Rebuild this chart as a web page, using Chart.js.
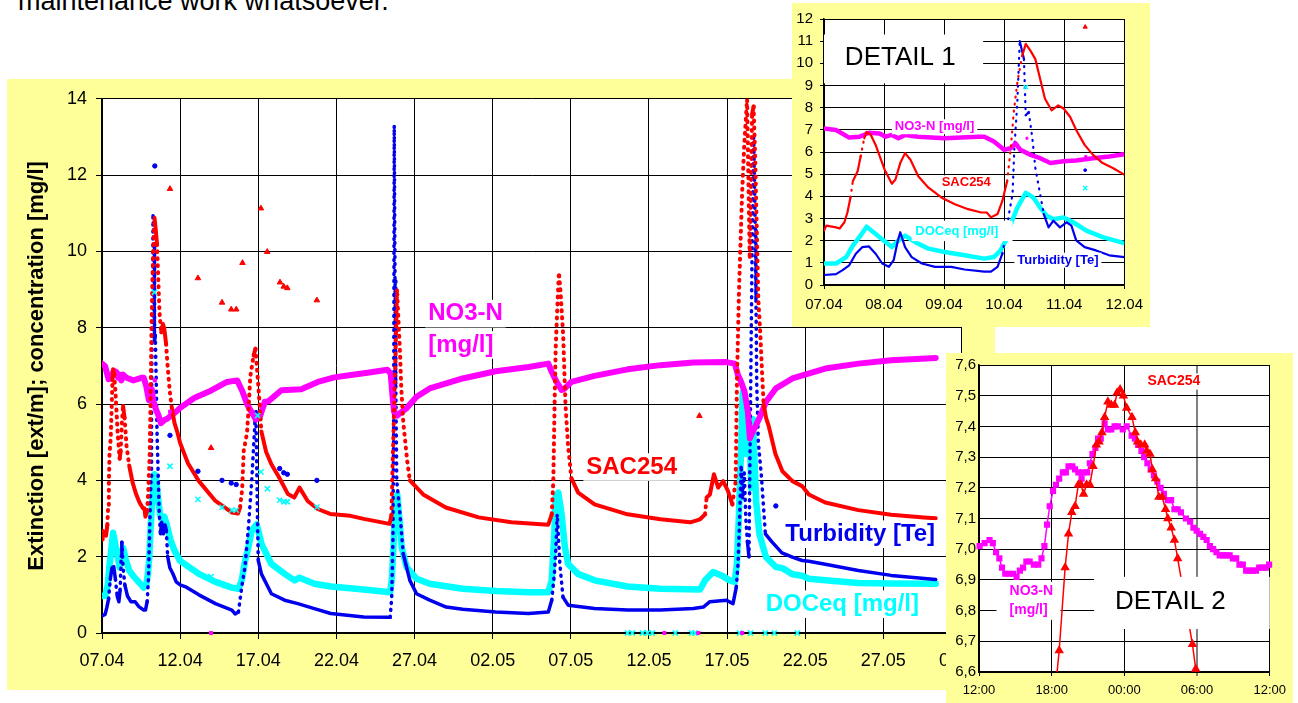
<!DOCTYPE html>
<html>
<head>
<meta charset="utf-8">
<script src="https://cdn.jsdelivr.net/npm/chart.js@4.4.1/dist/chart.umd.min.js"></script>
<style>
  body { margin: 0; width: 1298px; height: 703px; overflow: hidden; background: #fff; position: relative; font-family: "Liberation Sans", Arial, sans-serif; }
  .panel { position: absolute; background: #ffff99; }
  .panel canvas { display: block; }
  #intro { position: absolute; left: 18px; top: -12px; font-size: 27px; line-height: 27px; white-space: nowrap; color: #000; }
</style>
</head>
<body>
<div id="intro">maintenance work whatsoever.</div>
<div class="panel" style="left:7px;top:79px;width:988px;height:611px;z-index:1"><canvas id="mainChart" width="988" height="611"></canvas></div>
<div class="panel" style="left:792px;top:3px;width:358px;height:324px;z-index:2"><canvas id="detail1" width="358" height="324"></canvas></div>
<div class="panel" style="left:946px;top:353px;width:347px;height:350px;z-index:3"><canvas id="detail2" width="347" height="350"></canvas></div>
<script>
// days since 07.04, value
const sac254 = [[0,2.45],[0.04,2.68],[0.2,2.6],[0.26,2.55],[0.34,2.83],[0.39,3.27],[0.44,3.94],[0.48,4.68],[0.56,5.13],[0.61,5.8],[0.67,6.62],[0.71,6.91],[0.78,6.77],[0.86,6.32],[0.92,5.87],[1.01,5.2],[1.13,4.57],[1.19,4.76],[1.27,5.5],[1.35,5.95],[1.44,5.65],[1.57,4.91],[1.74,4.39],[1.96,3.94],[2.18,3.64],[2.4,3.42],[2.62,3.27],[2.71,3.27],[2.78,3.05],[2.89,3.2],[2.97,3.79],[3.05,4.68],[3.11,6.17],[3.16,7.8],[3.22,9.14],[3.3,10.33],[3.36,10.88],[3.44,10.56],[3.52,10.19],[3.6,9.29],[3.68,8.4],[3.79,7.88],[3.9,8.1],[3.99,7.96],[4.1,7.58],[4.2,6.99],[4.34,6.32],[4.48,5.87],[4.64,5.5],[4.81,5.28],[5.0,4.98],[5.5,4.45],[6.2,3.98],[7.26,3.46],[8.3,3.16],[8.7,3.13],[8.84,3.3],[8.97,3.77],[9.07,4.78],[9.28,5.24],[9.39,5.98],[9.49,6.72],[9.7,7.27],[9.82,7.45],[10.0,6.5],[10.2,5.28],[10.5,4.75],[10.84,4.42],[11.3,4.1],[11.9,3.64],[12.3,3.55],[12.64,3.81],[13.16,3.46],[13.8,3.25],[14.6,3.12],[15.9,3.07],[16.75,2.99],[18.4,2.86],[18.52,3.08],[18.58,4.14],[18.64,5.06],[18.73,6.44],[18.81,7.82],[18.88,9.01],[18.96,8.28],[19.07,7.36],[19.15,6.44],[19.28,5.52],[19.53,4.51],[19.7,4.0],[20.55,3.63],[22.0,3.29],[24.1,3.03],[26.2,2.9],[28.56,2.84],[28.78,3.11],[28.88,3.98],[28.95,5.72],[29.03,7.45],[29.16,8.75],[29.24,9.45],[29.35,8.9],[29.51,7.82],[29.66,5.98],[29.83,4.88],[30.04,4.05],[30.47,3.68],[31.52,3.37],[33.63,3.11],[35.74,2.98],[37.64,2.9],[38.27,2.98],[38.59,3.11],[38.69,3.55],[38.9,3.63],[39.16,4.16],[39.43,3.81],[39.75,3.98],[40.06,3.72],[40.34,3.37],[40.55,3.98],[40.63,6.58],[40.76,8.93],[40.96,11.5],[41.1,12.8],[41.28,13.98],[41.45,9.8],[41.6,13.6],[41.7,13.8],[41.8,12.4],[41.9,10.58],[42.0,8.74],[42.13,7.82],[42.23,6.9],[42.34,5.98],[42.5,5.63],[42.66,5.43],[43.09,4.7],[43.54,4.24],[44.18,3.98],[44.8,3.85],[45.23,3.63],[46.28,3.42],[48.4,3.22],[50.5,3.1],[52.6,3.03],[53.35,3.01]]

const no3n = [[0,7.06],[0.2,6.99],[0.42,6.65],[0.59,6.69],[0.75,6.87],[0.92,6.84],[1.03,6.69],[1.13,6.77],[1.24,6.62],[1.35,6.77],[1.57,6.69],[2.01,6.62],[2.56,6.69],[2.67,6.69],[2.83,6.47],[3.0,6.1],[3.11,6.17],[3.19,6.39],[3.27,6.1],[3.44,5.87],[3.6,5.72],[3.77,5.5],[3.99,5.58],[4.2,5.62],[4.48,5.72],[4.75,5.8],[5.0,5.9],[5.9,6.16],[6.96,6.35],[8.0,6.58],[8.65,6.62],[8.97,6.35],[9.3,5.98],[9.7,5.7],[9.85,5.6],[10.1,5.66],[10.42,6.06],[10.64,6.07],[11.48,6.36],[12.75,6.39],[13.81,6.58],[14.87,6.7],[15.93,6.76],[16.99,6.82],[18.26,6.9],[18.47,6.8],[18.58,6.25],[18.69,5.8],[18.9,5.7],[19.07,5.76],[19.49,5.89],[20.13,6.19],[20.97,6.41],[23.08,6.67],[25.19,6.86],[27.3,6.97],[28.56,7.06],[28.78,6.84],[29.09,6.58],[29.41,6.37],[29.62,6.41],[30.04,6.58],[31.52,6.74],[33.63,6.91],[35.74,7.02],[37.85,7.09],[39.96,7.1],[40.49,7.06],[40.7,6.76],[40.9,6.58],[41.12,6.32],[41.33,5.8],[41.46,5.1],[41.65,5.28],[42.07,5.63],[42.49,6.06],[43.12,6.41],[44.18,6.67],[46.28,6.93],[48.4,7.06],[50.5,7.15],[53.35,7.21]]

const turbidity = [[0,0.45],[0.2,0.49],[0.31,0.67],[0.42,0.89],[0.53,1.41],[0.64,1.71],[0.75,1.74],[0.86,1.41],[0.97,0.97],[1.08,0.82],[1.16,1.12],[1.23,2.01],[1.27,2.38],[1.35,1.71],[1.46,1.26],[1.63,0.97],[1.85,0.82],[2.12,0.82],[2.34,0.7],[2.67,0.6],[2.78,0.6],[2.89,0.82],[2.97,1.41],[3.03,2.3],[3.08,3.2],[3.14,4.09],[3.17,6.17],[3.22,8.25],[3.26,11.0],[3.33,10.19],[3.36,7.66],[3.41,7.8],[3.47,6.62],[3.52,5.28],[3.6,4.09],[3.66,3.2],[3.74,2.6],[3.82,2.9],[3.93,2.6],[4.04,2.83],[4.12,2.68],[4.2,2.01],[4.34,1.71],[4.53,1.56],[4.75,1.34],[5.0,1.26],[5.4,1.2],[6.2,1.0],[7.26,0.77],[8.31,0.6],[8.52,0.5],[8.73,0.55],[8.94,1.2],[9.15,1.73],[9.37,2.77],[9.58,3.98],[9.79,5.54],[9.85,5.8],[9.95,3.0],[10.0,1.9],[10.2,1.55],[10.84,1.03],[11.69,0.86],[12.53,0.77],[13.59,0.64],[14.64,0.51],[16.75,0.42],[18.44,0.41],[18.54,0.94],[18.62,2.5],[18.67,6.0],[18.7,13.3],[18.75,9.3],[18.8,6.5],[18.86,4.0],[19.07,3.11],[19.28,2.07],[19.7,1.38],[20.13,1.03],[20.97,0.86],[22.03,0.68],[23.08,0.62],[25.19,0.55],[27.3,0.51],[28.56,0.55],[28.78,0.86],[28.95,1.55],[29.05,2.25],[29.13,3.11],[29.3,1.81],[29.5,0.94],[29.83,0.73],[31.52,0.64],[33.63,0.6],[35.74,0.6],[37.85,0.64],[38.48,0.68],[38.9,0.82],[39.96,0.86],[40.38,0.77],[40.59,1.2],[40.7,1.81],[40.8,2.94],[40.9,4.4],[41.0,3.5],[41.1,4.2],[41.2,3.0],[41.3,2.4],[41.4,2.0],[41.5,6.0],[41.6,10.0],[41.7,13.0],[41.8,10.6],[41.85,8.7],[41.9,6.5],[42.0,5.0],[42.2,4.1],[42.45,2.6],[42.87,2.39],[43.51,2.1],[44.18,1.99],[44.8,1.9],[45.23,1.88],[46.28,1.8],[48.4,1.64],[50.5,1.51],[53.35,1.4]]

const doceq = [[0,0.97],[0.2,0.97],[0.37,1.26],[0.48,1.78],[0.59,2.16],[0.71,2.63],[0.86,2.3],[1.03,1.93],[1.13,1.71],[1.24,2.01],[1.35,2.23],[1.52,1.93],[1.74,1.64],[2.01,1.49],[2.34,1.34],[2.67,1.19],[2.83,1.26],[2.94,1.56],[3.03,2.01],[3.11,2.75],[3.22,3.49],[3.36,4.16],[3.49,3.94],[3.6,3.49],[3.71,3.12],[3.82,2.97],[3.99,3.05],[4.15,2.83],[4.37,2.45],[4.64,2.16],[5.0,1.89],[6.2,1.55],[7.26,1.34],[8.31,1.19],[8.73,1.16],[8.94,1.38],[9.16,1.9],[9.37,2.25],[9.58,2.68],[9.9,2.85],[10.21,2.33],[10.84,1.81],[11.69,1.55],[12.32,1.38],[12.64,1.45],[13.59,1.29],[14.64,1.22],[16.75,1.14],[18.44,1.07],[18.54,1.38],[18.65,2.25],[18.75,3.29],[18.9,3.63],[19.18,2.25],[19.49,1.73],[20.13,1.42],[20.97,1.29],[23.08,1.16],[25.19,1.1],[27.3,1.07],[28.56,1.07],[28.78,1.38],[28.95,2.68],[29.03,3.55],[29.2,3.68],[29.41,3.11],[29.62,2.25],[29.83,1.81],[30.46,1.55],[31.52,1.38],[33.63,1.22],[35.74,1.16],[38.27,1.14],[38.59,1.38],[39.11,1.6],[39.64,1.51],[40.17,1.38],[40.49,1.34],[40.63,1.81],[40.76,3.11],[40.9,4.85],[41.0,6.3],[41.2,4.7],[41.43,5.54],[41.54,3.8],[41.65,5.6],[41.86,3.46],[42.07,2.59],[42.49,1.99],[43.12,1.73],[43.54,1.7],[44.18,1.54],[44.8,1.5],[45.23,1.42],[46.28,1.38],[48.4,1.31],[50.5,1.3],[53.35,1.29]]

// single readings away from the main curves
const sacStray = [[4.35,11.64],[6.14,9.3],[6.98,4.85],[7.68,8.66],[8.27,8.48],[8.59,8.48],[8.99,9.7],[10.17,11.13],[10.57,9.99],[11.39,9.19],[11.63,9.08],[11.86,9.04],[13.75,8.72],[38.23,5.69]]
const turbStray = [[3.38,12.24],[4.35,5.18],[6.14,4.24],[7.68,4.0],[8.27,3.93],[8.59,3.89],[11.37,4.31],[11.63,4.2],[11.86,4.16],[13.75,4.0],[43.12,3.33]]
const docStray = [[3.36,8.93],[4.35,4.37],[6.14,3.5],[6.98,1.48],[7.68,3.29],[8.31,3.22],[8.59,3.22],[9.96,5.7],[10.17,4.22],[10.59,3.78],[11.37,3.48],[11.65,3.44],[11.86,3.44],[13.75,3.3]]
const no3Stray = [[3.38,6.62],[4.36,5.8]]
// readings logged as zero
const no3Zero = [[6.98,0],[35.99,0],[38.16,0],[40.97,0]]
const docZero = [[33.63,0],[33.94,0],[34.58,0],[34.9,0],[35.21,0],[36.69,0],[37.74,0],[37.95,0],[40.8,0],[41.5,0],[42.45,0],[43.02,0],[44.5,0]]

const mainTickLabels = ['07.04', '12.04', '17.04', '22.04', '27.04', '02.05', '07.05', '12.05', '17.05', '22.05', '27.05', '01.06']
const detail1TickLabels = ['07.04', '08.04', '09.04', '10.04', '11.04', '12.04']

// detail 2: hours from 12:00
const no3Hourly = [[0.05,7.01],[0.46,7.02],[0.87,7.03],[1.14,7.02],[1.41,6.99],[1.68,6.97],[1.9,6.94],[2.17,6.92],[2.5,6.92],[2.82,6.92],[3.1,6.91],[3.37,6.93],[3.64,6.94],[3.91,6.96],[4.18,6.96],[4.53,6.95],[4.89,6.95],[5.16,6.97],[5.4,7.01],[5.62,7.08],[5.84,7.14],[6.11,7.19],[6.35,7.21],[6.62,7.23],[6.92,7.25],[7.17,7.25],[7.39,7.27],[7.71,7.27],[7.93,7.26],[8.2,7.25],[8.47,7.23],[8.61,7.25],[8.93,7.25],[9.15,7.28],[9.37,7.31],[9.61,7.33],[9.83,7.36],[10.05,7.36],[10.37,7.41],[10.64,7.39],[10.92,7.39],[11.19,7.4],[11.46,7.4],[11.87,7.39],[12.19,7.4],[12.6,7.37],[12.87,7.36],[13.14,7.34],[13.41,7.32],[13.63,7.3],[13.9,7.28],[14.17,7.26],[14.44,7.24],[14.72,7.22],[14.99,7.2],[15.26,7.18],[15.58,7.16],[15.86,7.16],[16.13,7.13],[16.4,7.13],[16.67,7.12],[17.08,7.1],[17.43,7.09],[17.7,7.07],[17.97,7.06],[18.25,7.05],[18.52,7.04],[18.79,7.03],[19.06,7.01],[19.33,7.0],[19.6,6.99],[19.87,6.98],[20.15,6.98],[20.42,6.98],[20.69,6.98],[20.96,6.97],[21.23,6.97],[21.5,6.95],[21.78,6.95],[22.05,6.93],[22.32,6.93],[22.59,6.93],[22.86,6.93],[23.13,6.94],[23.4,6.94],[23.68,6.94],[23.95,6.95]]
const sacHourly = [[5.7,6.3],[6.62,6.67],[7.11,6.94],[7.39,7.05],[7.66,7.12],[7.93,7.14],[8.2,7.21],[8.42,7.21],[8.63,7.18],[8.88,7.21],[9.15,7.21],[9.42,7.27],[9.69,7.34],[9.91,7.35],[10.15,7.38],[10.37,7.43],[10.64,7.48],[10.92,7.47],[11.19,7.47],[11.4,7.51],[11.65,7.52],[11.92,7.5],[12.19,7.46],[12.63,7.43],[12.9,7.38],[13.09,7.35],[13.36,7.34],[13.68,7.34],[13.85,7.32],[14.12,7.31],[14.31,7.26],[14.58,7.23],[14.85,7.17],[15.12,7.17],[15.4,7.13],[15.59,7.1],[15.86,7.07],[16.13,7.03],[16.4,6.97],[17.62,6.69],[17.89,6.61],[18.8,6.3]]
const detail2TickLabels = ['12:00', '18:00', '00:00', '06:00', '12:00']

const RED = '#ff0000'
const MAGENTA = '#ff00ff'
const BLUE = '#0000ee'
const CYAN = '#00ffff'

Chart.defaults.font.family = '"Liberation Sans", Arial, sans-serif'
Chart.defaults.color = '#000'

const toXY = pairs => pairs.map(([x, y]) => ({x, y}))

// sparse logging on steep flanks shows up as a dotted column
const sparseDash = ctx => {
  const dx = Math.abs(ctx.p1.x - ctx.p0.x)
  const dy = Math.abs(ctx.p1.y - ctx.p0.y)
  return dy > 16 && dy > 5 * dx ? [1, 6] : undefined
}

const panel = {
  id: 'panel',
  beforeDraw(chart) {
    const {ctx, chartArea: a} = chart
    ctx.save()
    ctx.fillStyle = '#fff'
    ctx.fillRect(a.left, a.top, a.right - a.left, a.bottom - a.top)
    ctx.restore()
  }
}

// white text boxes placed in data units
function textLayer(labels, boxes) {
  return {
    id: 'textLayer',
    afterDatasetsDraw(chart) {
      const {ctx, scales: {x, y}} = chart
      ctx.save()
      ctx.fillStyle = '#fff'
      for (const b of boxes) {
        const x0 = x.getPixelForValue(b.x0), x1 = x.getPixelForValue(b.x1)
        const y0 = y.getPixelForValue(b.y0), y1 = y.getPixelForValue(b.y1)
        ctx.fillRect(x0, y1, x1 - x0, y0 - y1)
      }
      ctx.textBaseline = 'middle'
      for (const t of labels) {
        ctx.font = (t.bold ? 'bold ' : '') + t.size + 'px "Liberation Sans", Arial, sans-serif'
        ctx.textAlign = t.align || 'left'
        const px = x.getPixelForValue(t.x), py = y.getPixelForValue(t.y)
        if (t.bg) {
          const w = ctx.measureText(t.text).width
          const h = t.size * 1.15
          const left = t.align === 'center' ? px - w / 2 : px
          ctx.fillStyle = '#fff'
          ctx.fillRect(left - 3, py - h / 2, w + 6, h)
        }
        ctx.fillStyle = t.color || '#000'
        ctx.fillText(t.text, px, py)
      }
      ctx.restore()
    }
  }
}

function curve(pairs, color, width, dashed, order) {
  const ds = {
    data: toXY(pairs), showLine: true, pointRadius: 0, borderColor: color,
    borderWidth: width, borderCapStyle: 'round', borderJoinStyle: 'round', order
  }
  if (dashed) ds.segment = {borderDash: sparseDash}
  return ds
}

function marks(pairs, color, style, radius, extra) {
  return Object.assign({
    data: toXY(pairs), showLine: false, pointStyle: style, pointRadius: radius,
    backgroundColor: color, borderColor: color, borderWidth: 1, order: 0
  }, extra || {})
}

function seriesSets(s) {
  return [
    curve(sac254, RED, s.sac, true, 1),
    curve(no3n, MAGENTA, s.no3, false, 2),
    curve(turbidity, BLUE, s.turb, true, 3),
    curve(doceq, CYAN, s.doc, false, 4),
    marks(sacStray, RED, 'triangle', s.mark + 1),
    marks(turbStray, BLUE, 'circle', s.mark),
    marks(docStray, CYAN, 'crossRot', s.mark + 1.5, {borderWidth: 1.5}),
    marks(no3Stray, MAGENTA, 'rect', s.mark),
    marks(no3Zero, MAGENTA, 'rect', s.mark, {clip: 8}),
    marks(docZero, CYAN, 'crossRot', s.mark + 1.5, {borderWidth: 1.5, clip: 8})
  ]
}

const common = {
  responsive: false,
  animation: false,
  events: [],
  plugins: {legend: {display: false}, tooltip: {enabled: false}}
}

// main chart
new Chart(document.getElementById('mainChart'), {
  type: 'scatter',
  data: {datasets: seriesSets({sac: 4, no3: 6, turb: 3.5, doc: 6.5, mark: 2.2})},
  options: Object.assign({}, common, {
    layout: {padding: {left: 13, top: 16, right: 24, bottom: 0}},
    scales: {
      x: {
        type: 'linear', min: 0, max: 55,
        ticks: {stepSize: 5, autoSkip: false, maxRotation: 0, padding: 11, font: {size: 18},
          callback: v => mainTickLabels[Math.round(v / 5)]},
        grid: {color: '#000', lineWidth: 1, tickLength: 6},
        border: {color: '#000', width: 2},
        afterFit: s => { s.height = 57 }
      },
      y: {
        min: 0, max: 14,
        ticks: {stepSize: 2, padding: 9, font: {size: 18}},
        grid: {color: '#000', lineWidth: 1, tickLength: 6},
        border: {color: '#000', width: 2},
        title: {display: true, text: 'Extinction [ext/m]; concentration [mg/l]',
          font: {size: 22, weight: 'bold'}, padding: {top: 4, bottom: 4}},
        afterFit: s => { s.width = 82 }
      }
    }
  }),
  plugins: [panel, textLayer([
    {text: 'NO3-N', x: 20.87, y: 8.37, color: MAGENTA, size: 24, bold: true, bg: true},
    {text: '[mg/l]', x: 20.87, y: 7.55, color: MAGENTA, size: 24, bold: true, bg: true},
    {text: 'SAC254', x: 30.99, y: 4.35, color: RED, size: 24, bold: true, bg: true},
    {text: 'Turbidity [Te]', x: 43.73, y: 2.59, color: BLUE, size: 24, bold: true, bg: true},
    {text: 'DOCeq [mg/l]', x: 42.47, y: 0.755, color: CYAN, size: 24, bold: true, bg: true}
  ], [])]
})

// detail 1: first five days
new Chart(document.getElementById('detail1'), {
  type: 'scatter',
  data: {datasets: seriesSets({sac: 2.2, no3: 4.5, turb: 2.2, doc: 4.5, mark: 1.4}).map(d => Object.assign(d, {clip: d.clip || 0}))},
  options: Object.assign({}, common, {
    layout: {padding: {left: 0, top: 12, right: 22, bottom: 0}},
    scales: {
      x: {
        type: 'linear', min: 0, max: 5,
        ticks: {stepSize: 1, autoSkip: false, maxRotation: 0, padding: 7, font: {size: 15},
          callback: v => detail1TickLabels[Math.round(v)]},
        grid: {color: '#000', lineWidth: 1, tickLength: 4},
        border: {color: '#000', width: 1.5},
        afterFit: s => { s.height = 42 }
      },
      y: {
        min: 0, max: 12,
        ticks: {stepSize: 1, padding: 7, font: {size: 15}},
        grid: {color: '#000', lineWidth: 1, tickLength: 4},
        border: {color: '#000', width: 1.5},
        afterFit: s => { s.width = 32 }
      }
    }
  }),
  plugins: [panel, textLayer([
    {text: 'DETAIL 1', x: 1.27, y: 10.26, size: 26, align: 'center'},
    {text: 'NO3-N [mg/l]', x: 1.18, y: 7.14, color: MAGENTA, size: 13, bold: true, bg: true},
    {text: 'SAC254', x: 1.96, y: 4.61, color: RED, size: 13, bold: true, bg: true},
    {text: 'DOCeq [mg/l]', x: 1.52, y: 2.42, color: CYAN, size: 13, bold: true},
    {text: 'Turbidity [Te]', x: 3.22, y: 1.12, color: BLUE, size: 13, bold: true, bg: true}
  ], [
    {x0: 0, x1: 2.65, y0: 9.1, y1: 11.3},
    {x0: 1.46, x1: 3.14, y0: 1.98, y1: 2.9}
  ])]
})

// detail 2: one day of quarter-hour readings
new Chart(document.getElementById('detail2'), {
  type: 'scatter',
  data: {datasets: [
    {data: toXY(sacHourly), showLine: true, borderColor: RED, backgroundColor: RED, borderWidth: 1.5,
      pointStyle: 'triangle', pointRadius: 4, clip: {left: 6, top: 6, right: 6, bottom: 0}, order: 1},
    {data: toXY(no3Hourly), showLine: true, borderColor: MAGENTA, backgroundColor: MAGENTA, borderWidth: 1.5,
      pointStyle: 'rect', pointRadius: 3.3, clip: false, order: 2}
  ]},
  options: Object.assign({}, common, {
    layout: {padding: {left: 0, top: 12, right: 19, bottom: 0}},
    scales: {
      x: {
        type: 'linear', min: 0, max: 24,
        ticks: {stepSize: 6, autoSkip: false, maxRotation: 0, padding: 7, font: {size: 13},
          callback: v => detail2TickLabels[Math.round(v / 6)]},
        grid: {color: c => c.tick && c.tick.value === 18 ? '#808080' : '#000',
          lineWidth: c => c.tick && c.tick.value === 18 ? 2 : 1, tickLength: 4},
        border: {color: '#000', width: 1.5},
        afterFit: s => { s.height = 31 }
      },
      y: {
        min: 6.6, max: 7.6,
        ticks: {stepSize: 0.1, padding: 3, font: {size: 15},
          callback: v => v.toFixed(1).replace('.', ',')},
        grid: {color: '#000', lineWidth: 1, tickLength: 0},
        border: {color: '#000', width: 1.5},
        afterFit: s => { s.width = 33 }
      }
    }
  }),
  plugins: [panel, textLayer([
    {text: 'SAC254', x: 13.9, y: 7.546, color: RED, size: 14, bold: true, bg: true},
    {text: 'NO3-N', x: 2.52, y: 6.862, color: MAGENTA, size: 14, bold: true},
    {text: '[mg/l]', x: 2.52, y: 6.802, color: MAGENTA, size: 14, bold: true},
    {text: 'DETAIL 2', x: 15.8, y: 6.829, size: 26, align: 'center'}
  ], [
    {x0: 9.5, x1: 24, y0: 6.74, y1: 6.91},
    {x0: 1.44, x1: 6.73, y0: 6.77, y1: 6.894}
  ])]
})
</script>
</body>
</html>
